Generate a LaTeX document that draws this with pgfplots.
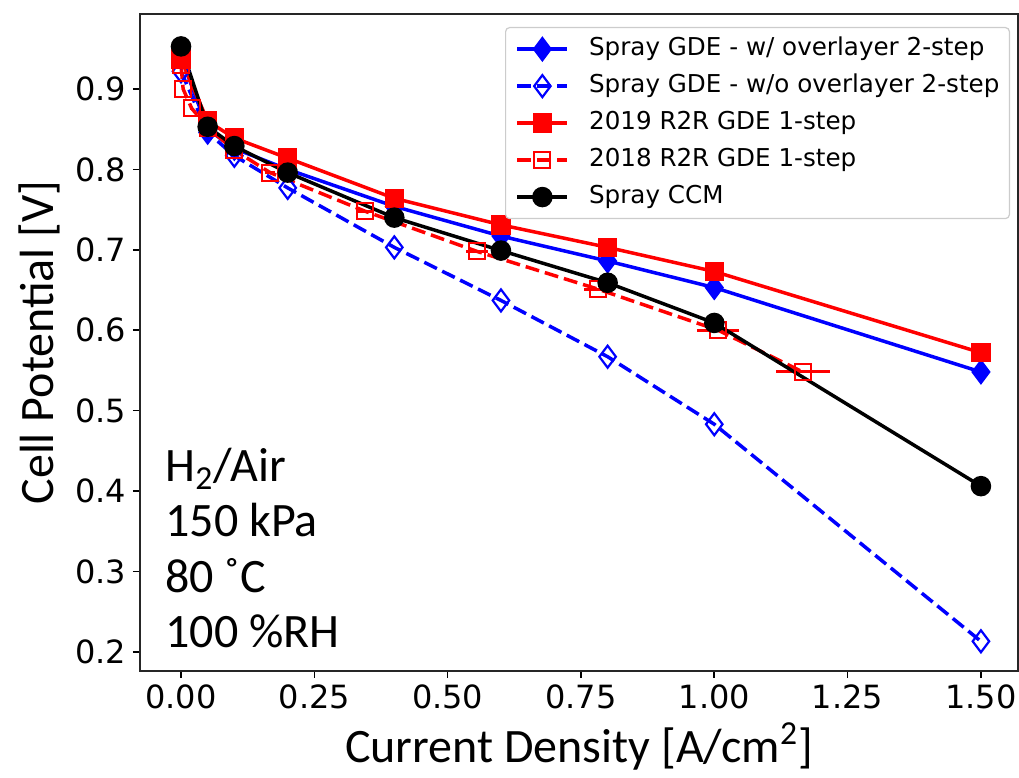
\documentclass[border=0pt]{standalone}
\usepackage{pgfplots}
\pgfplotsset{compat=1.18}
\usepackage{fontspec}
\setmainfont{DejaVu Sans}
\newfontfamily\calfont{Carlito}
\usetikzlibrary{calc}
\definecolor{mplblue}{RGB}{0,0,255}
\definecolor{mplred}{RGB}{255,0,0}
\begin{document}
\begin{tikzpicture}
\begin{axis}[
  name=ax,
  scale only axis,
  width=439pt, height=328.5pt,
  xmin=-0.0769, xmax=1.5695,
  ymin=0.1761, ymax=0.9933,
  xtick={0,0.25,0.5,0.75,1,1.25,1.5},
  ytick={0.2,0.3,0.4,0.5,0.6,0.7,0.8,0.9},
  tick pos=left, tick align=outside,
  major tick length=3.5pt,
  major tick style={line width=0.8pt, black},
  axis line style={line width=0.8pt, black!85},
  tick label style={font=\fontsize{16}{19}\selectfont},
  /pgf/number format/assume math mode=true,
  xticklabel style={/pgf/number format/.cd, fixed, fixed zerofill, precision=2},
  yticklabel style={/pgf/number format/.cd, fixed, fixed zerofill, precision=1},
  xlabel={\calfont Current Density [A/cm\textsuperscript{2}]},
  ylabel={\calfont Cell Potential [V]},
  xlabel style={at={(axis description cs:0.5,-0.140)}, anchor=base, inner sep=0pt, font=\fontsize{24}{28}\selectfont},
  ylabel style={at={(axis description cs:-0.139,0.5)}, anchor=north, inner sep=0pt, font=\fontsize{24}{28}\selectfont},
  legend cell align=left,
  legend style={at={(axis description cs:1,1)}, anchor=north east, xshift=-4pt, yshift=-6.5pt,
    draw=black!20, rounded corners=2pt, line width=0.6pt, fill=white,
    font=\fontsize{12.3}{14}\selectfont,
    nodes={inner sep=0pt, text height=9.5pt, text depth=3pt},
    row sep=6pt, column sep=10pt, inner xsep=5pt, inner ysep=4.5pt},
  legend image code/.code={
    \draw[mark repeat=2,mark phase=2] plot coordinates {(0pt,0pt) (12.5pt,0pt) (25pt,0pt)};
  },
]
\addplot[mplblue, line width=1.75pt, mark=diamond*, mark size=5pt, mark options={solid}]
  coordinates {(0,0.940)(0.05,0.850)(0.1,0.826)(0.2,0.800)(0.4,0.754)(0.6,0.717)(0.8,0.686)(1.0,0.653)(1.5,0.548)};
\addlegendentry{Spray GDE - w/ overlayer 2-step}
\addplot[mplblue, line width=1.75pt, dash pattern=on 7pt off 3pt, mark=diamond, mark size=5.5pt, mark options={solid, line width=1.1pt}]
  coordinates {(0,0.922)(0.05,0.846)(0.1,0.817)(0.2,0.777)(0.4,0.703)(0.6,0.637)(0.8,0.567)(1.0,0.483)(1.5,0.213)};
\addlegendentry{Spray GDE - w/o overlayer 2-step}
\addplot[mplred, line width=1.75pt, mark=square*, mark size=4pt, mark options={solid}]
  coordinates {(0,0.937)(0.05,0.860)(0.1,0.839)(0.2,0.814)(0.4,0.764)(0.6,0.731)(0.8,0.703)(1.0,0.673)(1.5,0.572)};
\addlegendentry{2019 R2R GDE 1-step}
\addplot[mplred, line width=1.75pt, dash pattern=on 7pt off 3pt, mark=square, mark size=4pt, mark options={solid, line width=1.1pt},
  error bars/.cd, x dir=both, x explicit, error mark=none, error bar style={solid, line width=1.5pt, mplred}]
  coordinates {
  (0,0.930) +- (0.002,0)
  (0.004,0.900) +- (0.002,0)
  (0.02,0.876) +- (0.003,0)
  (0.05,0.852) +- (0.004,0)
  (0.1,0.824) +- (0.006,0)
  (0.167,0.796) +- (0.01,0)
  (0.345,0.748) +- (0.015,0)
  (0.555,0.698) +- (0.021,0)
  (0.782,0.651) +- (0.027,0)
  (1.007,0.600) +- (0.040,0)
  (1.166,0.548) +- (0.051,0)
  };
\addlegendentry{2018 R2R GDE 1-step}
\addplot[black, line width=1.75pt, mark=*, mark size=4.25pt, mark options={solid}]
  coordinates {(0,0.953)(0.05,0.853)(0.1,0.829)(0.2,0.796)(0.4,0.740)(0.6,0.699)(0.8,0.659)(1.0,0.609)(1.5,0.406)};
\addlegendentry{Spray CCM}
\node[anchor=base west, inner sep=0pt, font=\calfont\fontsize{24}{28}\selectfont] at (axis cs:-0.030,0.4112) {H\textsubscript{2}/Air};
\node[anchor=base west, inner sep=0pt, font=\calfont\fontsize{24}{28}\selectfont] at (axis cs:-0.030,0.3428) {150 kPa};
\node[anchor=base west, inner sep=0pt, font=\calfont\fontsize{24}{28}\selectfont] at (axis cs:-0.030,0.2731) {80 ˚C};
\node[anchor=base west, inner sep=0pt, font=\calfont\fontsize{24}{28}\selectfont] at (axis cs:-0.030,0.2047) {100 \%RH};
\end{axis}
\pgfresetboundingbox
\useasboundingbox ($(ax.south west)+(-70pt,-53.5pt)$) rectangle ($(ax.north east)+(0.5pt,7pt)$);
\end{tikzpicture}
\end{document}
